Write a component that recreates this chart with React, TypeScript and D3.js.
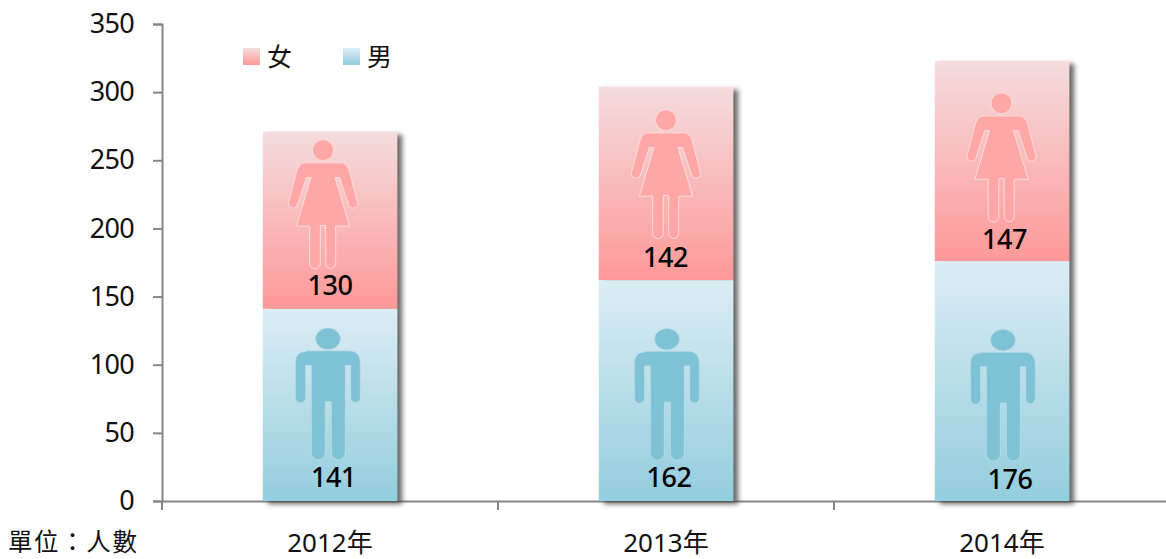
import { useEffect, useRef } from 'react'
import * as d3 from 'd3'

const years = ['2012年', '2013年', '2014年']
const male = [141, 162, 176]
const female = [130, 142, 147]
const yTicks = [0, 50, 100, 150, 200, 250, 300, 350]

// hand placement, px from bar centre / segment top
const femaleIconDx = [-7, 0, -0.5]
const femaleIconDy = [18.5, 33.5, 42.5]
const maleIconDx = [-2, 1, 1]
const maleIconDy = [30, 59, 79]
const femaleLabelDx = [0, -0.5, 2.5]
const femaleLabelDy = [163, 180, 188]
const maleLabelDx = [3.5, 3, 8]
const maleLabelDy = [178, 207, 228]

const width = 1166, height = 559
const margin = { top: 24, right: -4, bottom: 58, left: 162 }
const font = '"Noto Sans", "Noto Sans CJK TC", sans-serif'
const axisColor = '#868686'

// pictogram outlines, head centre at 0,0, in units of 1/3 px
const womanPath = 'M-55 38 H55 Q70 38 78 60 L103 155 A13 13 0 0 1 77 165 L50 82 H36 L80 228 H38 V340 A15 15 0 0 1 8 340 V226 H-8 V340 A16 16 0 0 1 -40 340 V228 H-80 L-36 82 H-50 L-77 165 A13 13 0 0 1 -103 155 L-78 60 Q-70 38 -55 38 Z'
const manPath = 'M-65 36 H65 Q97 38 97 72 V177 A14.5 14.5 0 0 1 68 177 V80 H52 V342 A21 21 0 0 1 10 342 V189 H-8 V342 A21 21 0 0 1 -50 342 V80 H-67 V177 A15.5 15.5 0 0 1 -98 177 V72 Q-98 38 -65 38 Z'

function App() {
  const yRef = useRef<SVGGElement>(null)
  const xRef = useRef<SVGGElement>(null)

  const x = d3.scaleBand<string>()
    .domain(years)
    .range([margin.left, width - margin.right])
    .paddingInner(0.6)
    .paddingOuter(0.3)

  const y = d3.scaleLinear()
    .domain([0, 350])
    .range([height - margin.bottom, margin.top])

  useEffect(() => {
    if (!yRef.current || !xRef.current) return

    const yAxis = d3.select(yRef.current)
      .call(d3.axisLeft(y).tickValues(yTicks).tickSize(9).tickPadding(19))
    yAxis.select('.domain').attr('stroke', axisColor).attr('stroke-width', 2)
    yAxis.selectAll('line').attr('stroke', axisColor).attr('stroke-width', 2)
    yAxis.selectAll('text')
      .attr('fill', '#111')
      .style('font-size', '27px')
      .style('letter-spacing', '-0.7px')
      .style('font-family', font)

    const xAxis = d3.select(xRef.current)
      .call(d3.axisBottom(x).tickSize(0).tickPadding(33))
    xAxis.select('.domain').attr('stroke', axisColor).attr('stroke-width', 2)
    xAxis.selectAll('text')
      .attr('fill', '#111')
      .style('font-size', '26px')
      .style('font-family', font)
    xAxis.selectAll('line.sep')
      .data(d3.range(years.length + 1))
      .join('line')
      .attr('class', 'sep')
      .attr('x1', i => margin.left + i * x.step())
      .attr('x2', i => margin.left + i * x.step())
      .attr('y1', 0)
      .attr('y2', 9)
      .attr('stroke', axisColor)
      .attr('stroke-width', 2)
  }, [])

  return (
    <svg width={width} height={height} style={{ position: 'absolute', left: 0, top: 0 }}>
      <defs>
        <linearGradient id="femaleFill" x1="0" y1="0" x2="0" y2="1">
          <stop offset="0" stopColor="#f4dcdd" />
          <stop offset="1" stopColor="#fe9898" />
        </linearGradient>
        <linearGradient id="maleFill" x1="0" y1="0" x2="0" y2="1">
          <stop offset="0" stopColor="#dcedf4" />
          <stop offset="1" stopColor="#93cddd" />
        </linearGradient>
        <filter id="barShadow" x="-10%" y="-10%" width="125%" height="125%">
          <feDropShadow dx="5" dy="3" stdDeviation="2.6" floodColor="#444" floodOpacity="0.8" />
        </filter>
      </defs>

      <g ref={xRef} transform={`translate(0,${y(0)})`} />
      <g ref={yRef} transform={`translate(${margin.left},0)`} />

      {years.map((yr, i) => {
        const bx = x(yr) as number
        const bw = x.bandwidth()
        const femaleTop = y(male[i] + female[i])
        const maleTop = y(male[i])
        return (
          <g key={yr} filter="url(#barShadow)">
            <rect x={bx} y={femaleTop} width={bw} height={maleTop - femaleTop} fill="url(#femaleFill)" />
            <rect x={bx} y={maleTop} width={bw} height={y(0) - maleTop} fill="url(#maleFill)" />
          </g>
        )
      })}

      {years.map((yr, i) => {
        const cx = (x(yr) as number) + x.bandwidth() / 2
        const femaleTop = y(male[i] + female[i])
        const maleTop = y(male[i])
        return (
          <g key={yr + 'marks'}>
            <g transform={`translate(${cx + femaleIconDx[i]},${femaleTop + femaleIconDy[i]})`} fill="#ffa6a6" stroke="#fbdcdc" strokeWidth={1}>
              <circle r={10.5} />
              <path d={womanPath} transform="scale(0.3333)" strokeWidth={3} />
            </g>
            <g transform={`translate(${cx + maleIconDx[i]},${maleTop + maleIconDy[i]})`} fill="#7fc1d5" stroke="#c3e3ed" strokeWidth={0.6}>
              <ellipse rx={12.5} ry={10.8} />
              <path d={manPath} transform="scale(0.3333)" strokeWidth={2} />
            </g>
            <text x={cx + femaleLabelDx[i]} y={femaleTop + femaleLabelDy[i]} textAnchor="middle"
              fontFamily={font} fontSize={27} letterSpacing={-0.4} fontWeight={500} fill="#000">{female[i]}</text>
            <text x={cx + maleLabelDx[i]} y={maleTop + maleLabelDy[i]} textAnchor="middle"
              fontFamily={font} fontSize={27} letterSpacing={-0.4} fontWeight={500} fill="#000">{male[i]}</text>
          </g>
        )
      })}

      <rect x={243} y={48} width={17} height={17} fill="url(#femaleFill)" />
      <text x={267} y={66} fontFamily={font} fontSize={25} fill="#111">女</text>
      <rect x={343} y={48} width={17} height={17} fill="url(#maleFill)" />
      <text x={367} y={66} fontFamily={font} fontSize={25} fill="#111">男</text>

      <text x={8} y={551} fontFamily={font} fontSize={24.5} letterSpacing={1.6} fill="#111">單位：人數</text>
    </svg>
  )
}

export default App
